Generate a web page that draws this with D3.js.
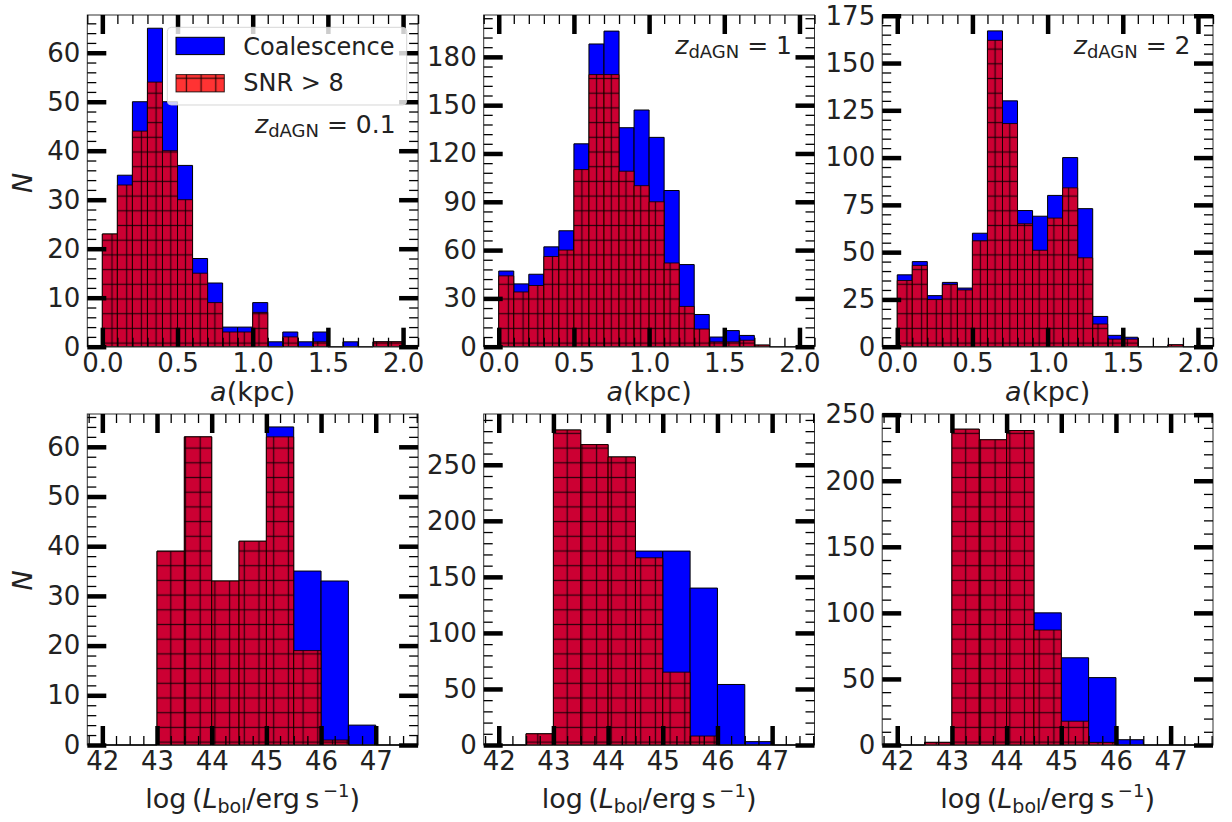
<!DOCTYPE html>
<html><head><meta charset="utf-8">
<script src="https://cdn.jsdelivr.net/npm/d3@7"></script>
<style>
body{margin:0;background:#fff}
svg{display:block}
text{font-family:"DejaVu Sans",sans-serif}
</style>
</head><body>
<svg id="c" width="1232" height="822"></svg>
<script>
// ---------------- data ----------------
const aBins = [0.0,0.1,0.2,0.3,0.4,0.5,0.6,0.7,0.8,0.9,1.0,1.1,1.2,1.3,1.4,1.5,1.6,1.7,1.8,1.9,2.0];
const lBins = [42,42.5,43,43.5,44,44.5,45,45.5,46,46.5,47,47.5];

// separation a (kpc) histograms
const coalA01 = [23,35,50,65,50,37,18,13,4,4,9,1,3,1,3,0,1,0,1,1];
const snrA01  = [23,33,44,54,40,30,15,9,3,3,7,0,2,0,1,0,0,0,1,1];
const coalA1  = [47,39,45,62,72,126,188,196,136,147,130,97,51,20,6,10,7,1,0,0];
const snrA1   = [44,34,38,56,60,110,169,169,109,100,90,52,25,11,3,3,4,1,0,0];
const coalA2  = [38,45,27,34,31,60,167,130,72,69,80,100,73,16,6,5,0,0,1,0];
const snrA2   = [35,43,25,33,30,56,162,118,65,51,68,84,47,12,4,4,0,0,1,0];

// log L_bol histograms
const coalL01 = [0,0,39,62,33,41,64,35,33,4,0];
const snrL01  = [0,0,39,62,33,41,62,19,1,0,0];
const coalL1  = [0,10,281,268,257,173,173,140,54,3,0];
const snrL1   = [0,10,281,268,257,167,65,8,0,0,0];
const coalL2  = [0,2,239,231,238,100,66,51,4,0,0];
const snrL2   = [0,2,239,231,238,87,18,2,0,0,0];

// ticks
const aTicks = [0,0.5,1.0,1.5,2.0];
const lTicks = [42,43,44,45,46,47];
const yTicksA01 = [0,10,20,30,40,50,60];
const yTicksA1  = [0,30,60,90,120,150,180];
const yTicksA2  = [0,25,50,75,100,125,150,175];
const yTicksL01 = [0,10,20,30,40,50,60];
const yTicksL1  = [0,50,100,150,200,250];
const yTicksL2  = [0,50,100,150,200,250];

const zLabels = ["0.1","1","2"];
const legendLabels = ["Coalescence","SNR > 8"];

// ---------------- layout ----------------
const colX = [87.3, 483.7, 882.2];
const panelW = 330.8;
const rowY = [15, 414];
const panelH = [331.7, 331];
const yMaxA = [67.7, 206, 175.4];
const yMaxL = [66.6, 295.3, 250.5];
const xDomA = [-0.1, 2.1];
const xDomL = [41.725, 47.775];

const svg = d3.select("#c");
const defs = svg.append("defs");
const hs = 14.7;
const pat = defs.append("pattern").attr("id","hatch")
  .attr("patternUnits","userSpaceOnUse")
  .attr("width",hs).attr("height",hs)
  .attr("x",2.65).attr("y",-2.65);
pat.append("line").attr("x1",0).attr("x2",hs).attr("y1",hs/2).attr("y2",hs/2)
  .attr("stroke","#000").attr("stroke-opacity",0.75).attr("stroke-width",1.3);
pat.append("line").attr("y1",0).attr("y2",hs).attr("x1",hs/2).attr("x2",hs/2)
  .attr("stroke","#000").attr("stroke-opacity",0.75).attr("stroke-width",1.3);

function minorVals(dom, step, majors){
  const k0 = Math.ceil(dom[0]/step - 1e-6), k1 = Math.floor(dom[1]/step + 1e-6);
  return d3.range(k0, k1+1).map(k => +(k*step).toFixed(6))
    .filter(v => !majors.some(m => Math.abs(m-v) < 1e-6));
}

function barPath(x, y, x0, x1, v){
  const X0 = x(x0), X1 = x(x1), Y0 = y(0), Y1 = y(v);
  return `M${X0},${Y0}V${Y1}H${X1}V${Y0}Z`;
}

function panel(opt){
  const g = svg.append("g").attr("transform",`translate(${opt.x0},${opt.y0})`);
  const W = panelW, H = opt.h;
  const x = d3.scaleLinear().domain(opt.xDom).range([0,W]);
  const y = d3.scaleLinear().domain([0,opt.yMax]).range([H,0]);
  const bins = d3.range(opt.coal.length).map(i => ({x0:opt.edges[i], x1:opt.edges[i+1], c:opt.coal[i], s:opt.snr[i]}));

  g.append("g").selectAll("path").data(bins).join("path")
    .attr("d", d => barPath(x,y,d.x0,d.x1,d.c))
    .attr("fill","#0000ff").attr("stroke","#000").attr("stroke-width",1);
  g.append("g").selectAll("path").data(bins).join("path")
    .attr("d", d => barPath(x,y,d.x0,d.x1,d.s))
    .attr("fill","#ff0000").attr("fill-opacity",0.8)
    .attr("stroke","#000").attr("stroke-opacity",0.8).attr("stroke-width",1);
  g.append("g").selectAll("path").data(bins.filter(d=>d.s>0)).join("path")
    .attr("d", d => barPath(x,y,d.x0,d.x1,d.s))
    .attr("fill","url(#hatch)").attr("stroke","none");

  g.append("rect").attr("width",W).attr("height",H)
    .attr("fill","none").attr("stroke","#333").attr("stroke-width",1);

  const styleMajor = s => { s.select(".domain").remove();
    s.selectAll(".tick line").attr("stroke","#000").attr("stroke-width",4.5);
    s.selectAll(".tick text").attr("fill","#222").attr("font-size",26).attr("font-family","DejaVu Sans"); };
  const styleMinor = s => { s.select(".domain").remove();
    s.selectAll(".tick line").attr("stroke","#000").attr("stroke-width",1.3); };

  const xMin = minorVals(opt.xDom, opt.xMinor, opt.xTicks);
  const yMin = minorVals([0,opt.yMax], opt.yMinor, opt.yTicks);

  // minor ticks
  g.append("g").attr("transform",`translate(0,${H})`)
    .call(d3.axisBottom(x).tickValues(xMin).tickSizeInner(-9).tickSizeOuter(0).tickFormat("")).call(styleMinor);
  g.append("g").call(d3.axisTop(x).tickValues(xMin).tickSizeInner(-9).tickSizeOuter(0).tickFormat("")).call(styleMinor);
  g.append("g").call(d3.axisLeft(y).tickValues(yMin).tickSizeInner(-9).tickSizeOuter(0).tickFormat("")).call(styleMinor);
  g.append("g").attr("transform",`translate(${W},0)`)
    .call(d3.axisRight(y).tickValues(yMin).tickSizeInner(-9).tickSizeOuter(0).tickFormat("")).call(styleMinor);

  // major ticks
  g.append("g").attr("transform",`translate(0,${H})`)
    .call(d3.axisBottom(x).tickValues(opt.xTicks).tickSizeInner(-19).tickSizeOuter(0).tickPadding(7).tickFormat(opt.xFmt)).call(styleMajor);
  g.append("g").call(d3.axisTop(x).tickValues(opt.xTicks).tickSizeInner(-19).tickSizeOuter(0).tickFormat("")).call(styleMajor);
  g.append("g").call(d3.axisLeft(y).tickValues(opt.yTicks).tickSizeInner(-19).tickSizeOuter(0).tickPadding(7).tickFormat(d3.format("d"))).call(styleMajor);
  g.append("g").attr("transform",`translate(${W},0)`)
    .call(d3.axisRight(y).tickValues(opt.yTicks).tickSizeInner(-19).tickSizeOuter(0).tickFormat("")).call(styleMajor);
  return g;
}

const topCoal = [coalA01, coalA1, coalA2], topSnr = [snrA01, snrA1, snrA2];
const topY = [yTicksA01, yTicksA1, yTicksA2];
const yMinorTop = [2, 6, 5];
const botCoal = [coalL01, coalL1, coalL2], botSnr = [snrL01, snrL1, snrL2];
const botY = [yTicksL01, yTicksL1, yTicksL2];
const yMinorBot = [2, 10, 10];
const zY = [118, 38.5, 39];

for (let c = 0; c < 3; c++) {
  panel({x0:colX[c], y0:rowY[0], h:panelH[0], xDom:xDomA, yMax:yMaxA[c], edges:aBins,
    coal:topCoal[c], snr:topSnr[c], xTicks:aTicks, yTicks:topY[c], xMinor:0.1, yMinor:yMinorTop[c],
    xFmt:d3.format(".1f")});
  panel({x0:colX[c], y0:rowY[1], h:panelH[1], xDom:xDomL, yMax:yMaxL[c], edges:lBins,
    coal:botCoal[c], snr:botSnr[c], xTicks:lTicks, yTicks:botY[c], xMinor:0.25, yMinor:yMinorBot[c],
    xFmt:d3.format("d")});

  const cx = colX[c] + panelW/2;
  // a(kpc)
  const t1 = svg.append("text").attr("x",cx).attr("y",401).attr("text-anchor","middle")
    .attr("font-size",27).attr("fill","#222");
  t1.append("tspan").attr("font-style","italic").text("a");
  t1.append("tspan").text("(kpc)");
  // log label
  const t2 = svg.append("text").attr("x",cx).attr("y",808).attr("text-anchor","middle")
    .attr("font-size",27).attr("fill","#222");
  t2.append("tspan").text("log\u2009(");
  t2.append("tspan").attr("font-style","italic").text("L");
  t2.append("tspan").attr("font-size",19).attr("dy",5).text("bol");
  t2.append("tspan").attr("dy",-5).text("/erg\u2009s");
  t2.append("tspan").attr("font-size",18).attr("dy",-11).text("\u2009\u22121");
  t2.append("tspan").attr("dy",11).text(")");
  // z label
  const t3 = svg.append("text").attr("x",colX[c]+panelW-22.5).attr("y",rowY[0]+zY[c])
    .attr("text-anchor","end").attr("font-size",25).attr("fill","#222");
  t3.append("tspan").attr("font-style","italic").text("z");
  t3.append("tspan").attr("font-size",18).attr("dy",4).text("dAGN");
  t3.append("tspan").attr("dy",-4).text(" = " + zLabels[c]);
}

// N labels
[rowY[0]+panelH[0]/2 + 2, rowY[1]+panelH[1]/2 + 1].forEach(cy => {
  svg.append("text").attr("transform",`translate(32,${cy}) rotate(-90)`)
    .attr("text-anchor","middle").attr("font-size",27).attr("font-style","italic")
    .attr("fill","#222").text("N");
});

// legend
const lg = svg.append("g");
lg.append("rect").attr("x",167.3).attr("y",27.3).attr("width",239.4).attr("height",77.7).attr("rx",4)
  .attr("fill","#fff").attr("fill-opacity",0.8).attr("stroke","#ccc").attr("stroke-opacity",0.8);
lg.append("rect").attr("x",176).attr("y",37.3).attr("width",48.3).attr("height",17.3)
  .attr("fill","#0000ff").attr("stroke","#000");
lg.append("rect").attr("x",176).attr("y",74.6).attr("width",48.3).attr("height",17.3)
  .attr("fill","#ff0000").attr("fill-opacity",0.8).attr("stroke","#000").attr("stroke-opacity",0.8);
lg.append("rect").attr("x",176).attr("y",74.6).attr("width",48.3).attr("height",17.3)
  .attr("fill","url(#hatch)");
legendLabels.forEach((s,i) => {
  lg.append("text").attr("x",243.3).attr("y",[54.8,90.7][i]).attr("font-size",24)
    .attr("fill","#222").text(s);
});
</script>
</body></html>
